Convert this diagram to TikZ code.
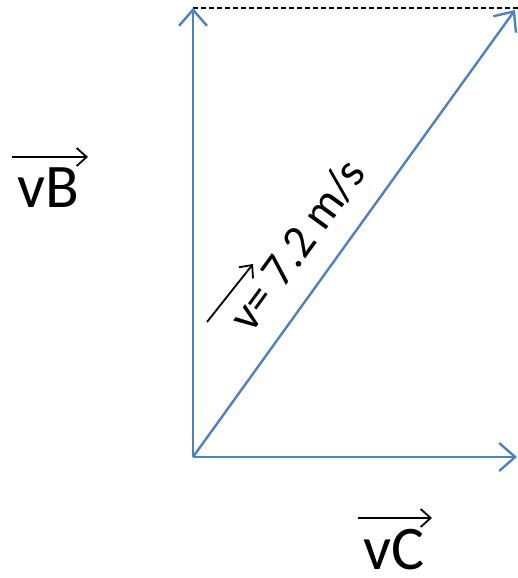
\documentclass[tikz,border=0pt]{standalone}
\usepackage{fontspec}
\setmainfont{Carlito}
\usetikzlibrary{arrows.meta}
\definecolor{vecblue}{RGB}{79,129,189}

\begin{document}
\begin{tikzpicture}[x=1pt,y=1pt,
  vel/.style={vecblue,line width=2.4pt,-{Straight Barb[length=16pt,width=28pt,line width=2.4pt]}},
  overarrow/.style={black,line width=1.8pt,-{Straight Barb[length=10pt,width=18pt,line width=1.8pt]}}]
  \useasboundingbox (0,0) rectangle (518,578);
  % vector end points
  \coordinate (O) at (193,121);
  \coordinate (vtip) at (193,570);
  \coordinate (htip) at (517,121);
  \coordinate (dtip) at (515,568);
  \coordinate (corner) at (518,570);
  % components and resultant
  \draw[line width=1.4pt,dash pattern=on 5pt off 3pt] (vtip) -- (corner);
  \draw[vel] (O) -- (vtip);
  \draw[vel] (O) -- (htip);
  \draw[vel] (O) -- (dtip);
  % labels
  \node[font=\fontsize{62}{62}\selectfont,inner sep=0pt] (vB) at (48,390) {vB};
  \coordinate (vBa) at (12,421);
  \coordinate (vBb) at (88,421);
  \draw[overarrow] (vBa) -- (vBb);
  \node[font=\fontsize{62}{62}\selectfont,inner sep=0pt] (vC) at (394,28) {vC};
  \coordinate (vCa) at (358,60);
  \coordinate (vCb) at (432,60);
  \draw[overarrow] (vCa) -- (vCb);
  \node[font=\fontsize{47}{47}\selectfont,inner sep=0pt,rotate=54] (vlabel) at (297,333) {v= 7.2 m/s};
  \coordinate (va) at (207,256);
  \coordinate (vb) at (253,314);
  \draw[overarrow] (va) -- (vb);
\end{tikzpicture}
\end{document}
